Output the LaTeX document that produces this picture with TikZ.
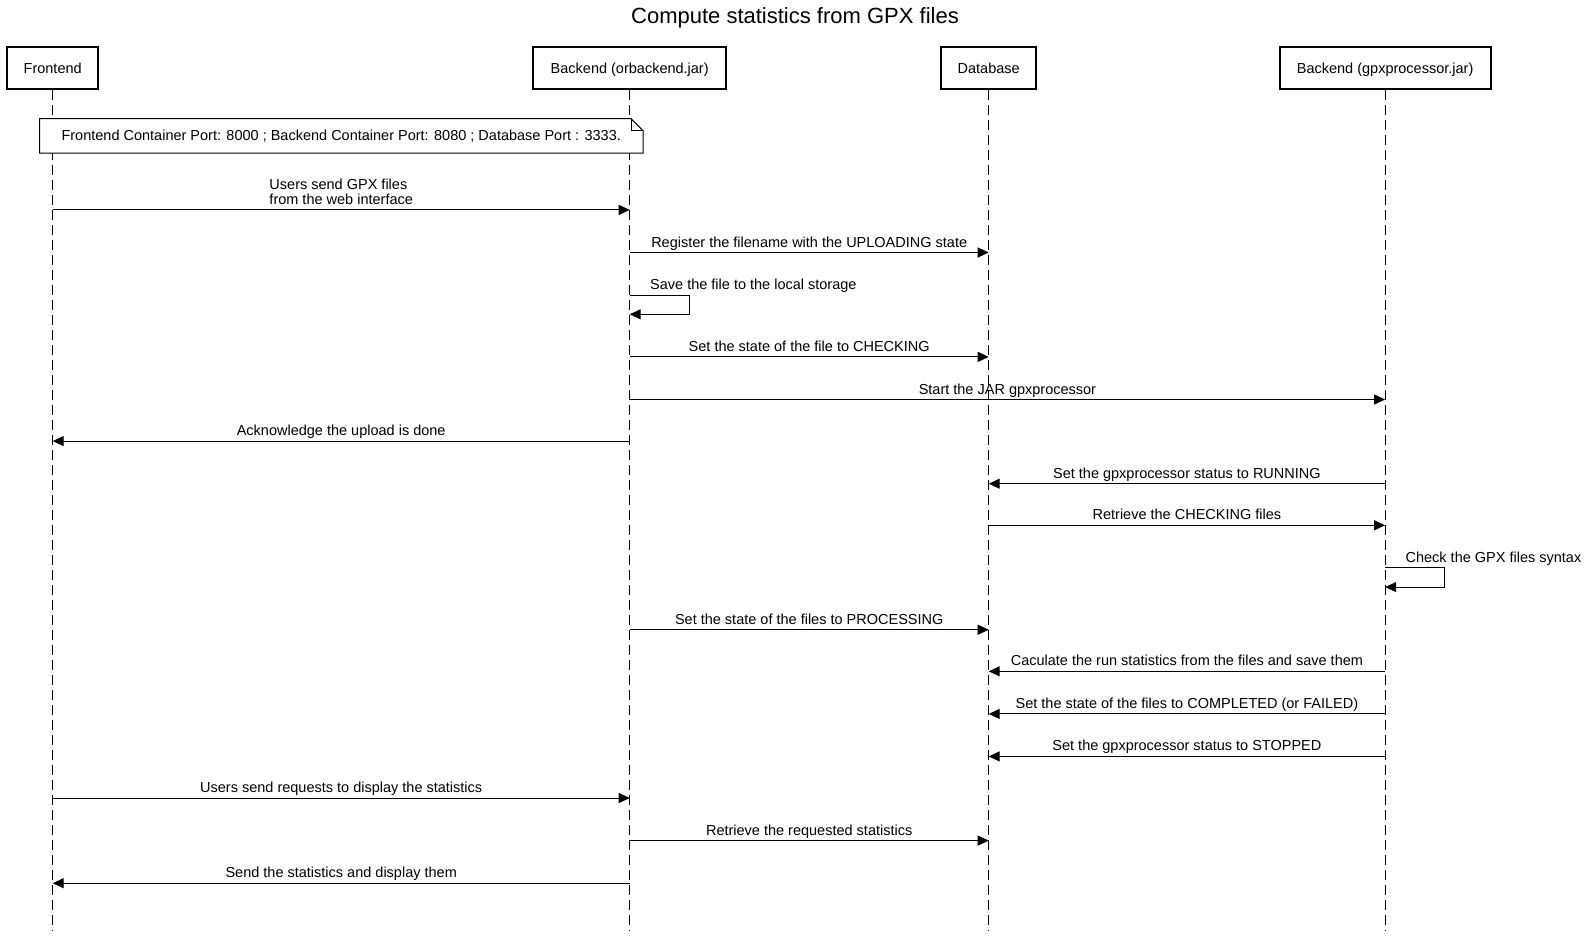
\documentclass[tikz,border=0pt]{standalone}
\usepackage{fontspec}
\setmainfont{Liberation Sans}
\usetikzlibrary{arrows.meta,calc}
\begin{document}
\begin{tikzpicture}[x=1pt,y=-1pt,
  txt/.style={font=\fontsize{14.5}{15.2}\selectfont},
  actor/.style={txt,draw,line width=2pt,fill=white,minimum height=42.6pt,inner sep=0pt,
    text height=10.5pt,text depth=0pt},
  life/.style={line width=1pt,dash pattern=on 10pt off 5pt},
  msg/.style={line width=1pt,-{Triangle[length=11pt,width=10pt]}},
  lbl/.style={txt,anchor=base,inner sep=0pt,yshift=5.5pt},
  selflbl/.style={txt,anchor=base west,inner sep=0pt,yshift=5.5pt,xshift=20.3pt},
  notebox/.style={line width=1pt,fill=white},
]
\useasboundingbox (0,0) rectangle (1590,935);

% title
\node[font=\fontsize{22}{26}\selectfont] (title) at (795,17.5) {Compute statistics from GPX files};

% participants
\node[actor,minimum width=91.3pt]  (fe) at (52.7,67.9)   {Frontend};
\node[actor,minimum width=192.6pt] (ob) at (629.7,67.9)  {Backend (orbackend.jar)};
\node[actor,minimum width=95pt]    (db) at (988.7,67.9)  {Database};
\node[actor,minimum width=211pt]   (gp) at (1385.1,67.9) {Backend (gpxprocessor.jar)};

% lifelines
\coordinate (bottom) at (0,930.9);
\foreach \p in {fe,ob,db,gp}{
  \draw[life] (\p.south) -- (\p |- bottom);
}
% redraw boxes on top of the lifelines
\node[actor,minimum width=91.3pt]  at (fe) {Frontend};
\node[actor,minimum width=192.6pt] at (ob) {Backend (orbackend.jar)};
\node[actor,minimum width=95pt]    at (db) {Database};
\node[actor,minimum width=211pt]   at (gp) {Backend (gpxprocessor.jar)};

% note with folded corner
\coordinate (noteNW) at (39.5,118.6);
\coordinate (noteSE) at (643,153.1);
\draw[notebox] (noteNW) -- ($(noteSE|-noteNW)+(-12,0)$) -- ($(noteSE|-noteNW)+(0,12)$)
  -- (noteSE) -- (noteNW|-noteSE) -- cycle;
\draw[line width=1pt] ($(noteSE|-noteNW)+(-12,0)$) |- ($(noteSE|-noteNW)+(0,12)$);
\node[txt,inner sep=0pt] (note) at ($(noteNW)!0.5!(noteSE)$)
  {Frontend Container Port: 8000 ; Backend Container Port: 8080 ; Database Port : 3333.};

% message rows
\coordinate (r1)  at (0,209.9);
\coordinate (r2)  at (0,252.5);
\coordinate (s1a) at (0,295.1);
\coordinate (s1b) at (0,314.3);
\coordinate (r3)  at (0,356.9);
\coordinate (r4)  at (0,399.5);
\coordinate (r5)  at (0,441.1);
\coordinate (r6)  at (0,483.7);
\coordinate (r7)  at (0,525.3);
\coordinate (s2a) at (0,567.8);
\coordinate (s2b) at (0,587.1);
\coordinate (r8)  at (0,629.7);
\coordinate (r9)  at (0,671.3);
\coordinate (r10) at (0,713.9);
\coordinate (r11) at (0,756.4);
\coordinate (r12) at (0,798.0);
\coordinate (r13) at (0,840.6);
\coordinate (r14) at (0,883.2);

% messages
\draw[msg] (fe |- r1) -- (ob |- r1);
\node[txt,align=left,anchor=base,inner sep=0pt] (m1) at ($(fe |- r1)!0.5!(ob |- r1)+(0,-5)$)
  {Users send GPX files\\from the web interface};

\draw[msg] (ob |- r2) -- (db |- r2) node[lbl,midway] {Register the filename with the UPLOADING state};

\draw[msg] (ob |- s1a) -- ++(59.8,0) |- (ob |- s1b);
\node[selflbl] at (ob |- s1a) {Save the file to the local storage};

\draw[msg] (ob |- r3) -- (db |- r3) node[lbl,midway] {Set the state of the file to CHECKING};
\draw[msg] (ob |- r4) -- (gp |- r4) node[lbl,midway] {Start the JAR gpxprocessor};
\draw[msg] (ob |- r5) -- (fe |- r5) node[lbl,midway] {Acknowledge the upload is done};
\draw[msg] (gp |- r6) -- (db |- r6) node[lbl,midway] {Set the gpxprocessor status to RUNNING};
\draw[msg] (db |- r7) -- (gp |- r7) node[lbl,midway] {Retrieve the CHECKING files};

\draw[msg] (gp |- s2a) -- ++(59.8,0) |- (gp |- s2b);
\node[selflbl] at (gp |- s2a) {Check the GPX files syntax};

\draw[msg] (ob |- r8)  -- (db |- r8)  node[lbl,midway] {Set the state of the files to PROCESSING};
\draw[msg] (gp |- r9)  -- (db |- r9)  node[lbl,midway] {Caculate the run statistics from the files and save them};
\draw[msg] (gp |- r10) -- (db |- r10) node[lbl,midway] {Set the state of the files to COMPLETED (or FAILED)};
\draw[msg] (gp |- r11) -- (db |- r11) node[lbl,midway] {Set the gpxprocessor status to STOPPED};
\draw[msg] (fe |- r12) -- (ob |- r12) node[lbl,midway] {Users send requests to display the statistics};
\draw[msg] (ob |- r13) -- (db |- r13) node[lbl,midway] {Retrieve the requested statistics};
\draw[msg] (ob |- r14) -- (fe |- r14) node[lbl,midway] {Send the statistics and display them};
\end{tikzpicture}
\end{document}
